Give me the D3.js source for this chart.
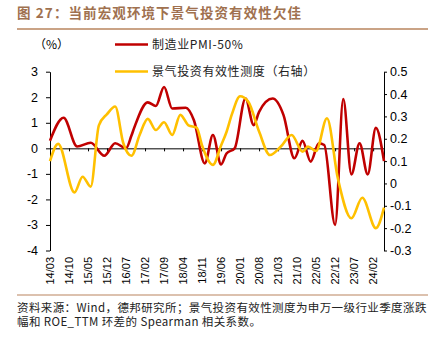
<!DOCTYPE html>
<html>
<head>
<meta charset="utf-8">
<script src="https://cdn.jsdelivr.net/npm/d3@7"></script>
<style>
  body { margin: 0; background: #fff; }
  svg { display: block; }
</style>
</head>
<body>
<div id="chart"></div>
<script>
// 制造业PMI-50%（左轴），月份 -> 数值
const pmiMonths = ['14/03', '14/08', '15/01', '15/06', '15/11', '16/03', '16/07', '16/09', '16/10',
  '17/03', '17/06', '17/09', '17/12', '18/05', '18/08', '18/12', '19/03', '19/06', '19/08', '19/11',
  '20/03', '20/06', '20/08', '21/01', '21/05', '21/09', '21/12', '22/03', '22/06', '22/08', '22/12',
  '23/03', '23/06', '23/09', '23/12', '24/03', '24/06']
const pmiValues = [0.3, 1.2, 0.07, 0.22, -0.29, 0.2, 0.0, 0.5, 0.8,
  1.8, 1.66, 2.4, 1.56, 1.59, 1.1, -0.59, 0.52, -0.63, -0.2, 0.0,
  1.95, 0.91, 1.43, 1.95, 1.3, -0.39, 0.29, -0.52, 0.2, 0.13, -3.0,
  1.93, -1.02, 0.2, -1.02, 0.8, -0.5]

// 景气投资有效性测度（右轴）
const effMonths = ['14/03', '14/06', '14/12', '15/03', '15/06', '15/09', '15/12', '16/03', '16/06',
  '16/09', '16/12', '17/03', '17/06', '17/09', '17/12', '18/03', '18/06', '18/09', '18/11', '19/03',
  '19/06', '19/08', '19/10', '20/01', '20/04', '20/08', '20/12', '21/04', '21/08', '21/12', '22/02',
  '22/05', '22/09', '23/01', '23/06', '23/10', '24/03', '24/06']
const effValues = [0.1, 0.177, -0.04, 0.03, -0.014, 0.26, 0.31, 0.344, 0.18,
  0.124, 0.217, 0.289, 0.239, 0.274, 0.217, 0.307, 0.26, 0.25, 0.17, 0.083,
  0.17, 0.23, 0.31, 0.39, 0.366, 0.232, 0.127, 0.165, 0.217, 0.142, 0.165,
  0.145, 0.292, 0.023, -0.156, -0.064, -0.2, -0.108]

const tickMonths = ['14/03', '14/10', '15/05', '15/12', '16/07', '17/02', '17/09', '18/04', '18/11',
  '19/06', '20/01', '20/08', '21/03', '21/10', '22/05', '22/12', '23/07', '24/02']
const leftTicks = [-4, -3, -2, -1, 0, 1, 2, 3]
const rightTicks = [-0.3, -0.2, -0.1, 0, 0.1, 0.2, 0.3, 0.4, 0.5]

const WIDTH = 434
const HEIGHT = 338
const RED = '#C00000'
const YELLOW = '#FFC000'
const BROWN = '#A0714F'
const LATIN = '"Liberation Sans", Arial, sans-serif'
const CJK = '"Noto Sans CJK SC", "Liberation Sans", sans-serif'

// "YY/MM" -> months since 2014/03
const monthIndex = s => {
    const [yy, mm] = s.split('/').map(Number)
    return (yy - 14) * 12 + (mm - 3)
}

const svg = d3.select('#chart')
    .append('svg')
    .attr('width', WIDTH)
    .attr('height', HEIGHT)

/**
 * Title
 */
svg.append('text')
    .attr('x', 17)
    .attr('y', 18)
    .attr('font-family', CJK)
    .attr('font-weight', 700)
    .attr('font-size', '13.5px')
    .attr('letter-spacing', '1.1px')
    .attr('fill', BROWN)
    .text('图 27：当前宏观环境下景气投资有效性欠佳')

svg.append('line')
    .attr('x1', 17).attr('x2', 428)
    .attr('y1', 29).attr('y2', 29)
    .attr('stroke', '#B9845E')
    .attr('stroke-width', 1.5)

/**
 * Scales
 */
const x = d3.scaleLinear().domain([0, 123]).range([50, 384])
const yLeft = d3.scaleLinear().domain([-4, 3]).range([250.5, 71.7])
const yRight = d3.scaleLinear().domain([-0.3, 0.5]).range([250.5, 71.7])

/**
 * Axes
 */
const leftAxis = svg.append('g')
    .attr('transform', 'translate(50,0)')
    .call(d3.axisLeft(yLeft).tickValues(leftTicks).tickSize(4).tickSizeOuter(0).tickPadding(8)
        .tickFormat(d => String(d)))

const rightAxis = svg.append('g')
    .attr('transform', 'translate(384,0)')
    .call(d3.axisRight(yRight).tickValues(rightTicks).tickSize(3).tickSizeOuter(0).tickPadding(3)
        .tickFormat(d => String(+d.toFixed(1))))

const bottomAxis = svg.append('g')
    .attr('transform', `translate(0,${yLeft(0)})`)
    .call(d3.axisBottom(x).tickValues(tickMonths.map(monthIndex)).tickSize(3).tickSizeOuter(0)
        .tickFormat(''))

;[leftAxis, rightAxis, bottomAxis].forEach(g => {
    g.selectAll('path, line').attr('stroke', '#000').attr('stroke-width', 1)
    g.selectAll('text')
        .attr('font-family', LATIN)
        .attr('font-size', '12.5px')
        .attr('fill', '#000')
})

// month labels, rotated, along the bottom
svg.append('g')
    .selectAll('text')
    .data(tickMonths)
    .enter()
    .append('text')
    .attr('transform', d => `translate(${x(monthIndex(d))},257) rotate(-90)`)
    .attr('text-anchor', 'end')
    .attr('dy', '0.35em')
    .attr('font-family', LATIN)
    .attr('font-size', '11px')
    .attr('fill', '#000')
    .text(d => d)

/**
 * Lines
 */
const pmiLine = d3.line()
    .x((d, i) => x(monthIndex(pmiMonths[i])))
    .y(d => yLeft(d))
    .curve(d3.curveMonotoneX)

const effLine = d3.line()
    .x((d, i) => x(monthIndex(effMonths[i])))
    .y(d => yRight(d))
    .curve(d3.curveMonotoneX)

svg.append('path')
    .datum(pmiValues)
    .attr('d', pmiLine)
    .attr('fill', 'none')
    .attr('stroke', RED)
    .attr('stroke-width', 2.6)
    .attr('stroke-linejoin', 'round')

svg.append('path')
    .datum(effValues)
    .attr('d', effLine)
    .attr('fill', 'none')
    .attr('stroke', YELLOW)
    .attr('stroke-width', 2.6)
    .attr('stroke-linejoin', 'round')

/**
 * Legend
 */
svg.append('text')
    .attr('x', 34)
    .attr('y', 49)
    .attr('font-family', CJK)
    .attr('font-size', '12px')
    .attr('fill', '#000')
    .text('（%）')

const legendData = [
    {name: '制造业PMI-50%', color: RED, y: 44.5},
    {name: '景气投资有效性测度（右轴）', color: YELLOW, y: 71.5},
]
const legend = svg.append('g')
    .selectAll('g')
    .data(legendData)
    .enter()
    .append('g')
    .attr('transform', d => `translate(0,${d.y})`)

legend.append('line')
    .attr('x1', 115).attr('x2', 148)
    .attr('stroke', d => d.color)
    .attr('stroke-width', 2.6)

legend.append('text')
    .attr('x', 152)
    .attr('dy', '0.36em')
    .attr('font-family', CJK)
    .attr('font-size', '12px')
    .attr('letter-spacing', '0.6px')
    .attr('fill', '#222')
    .text(d => d.name)

/**
 * Source note
 */
svg.append('line')
    .attr('x1', 17).attr('x2', 428)
    .attr('y1', 295).attr('y2', 295)
    .attr('stroke', '#B9845E')
    .attr('stroke-width', 1.2)

const notes = [
    '资料来源：Wind，德邦研究所；景气投资有效性测度为申万一级行业季度涨跌',
    '幅和 ROE_TTM 环差的 Spearman 相关系数。',
]
svg.append('g')
    .selectAll('text')
    .data(notes)
    .enter()
    .append('text')
    .attr('x', 17)
    .attr('y', (d, i) => 312 + i * 13.5)
    .attr('font-family', CJK)
    .attr('font-size', '11.5px')
    .attr('letter-spacing', '0.4px')
    .attr('fill', '#222')
    .text(d => d)
</script>
</body>
</html>
